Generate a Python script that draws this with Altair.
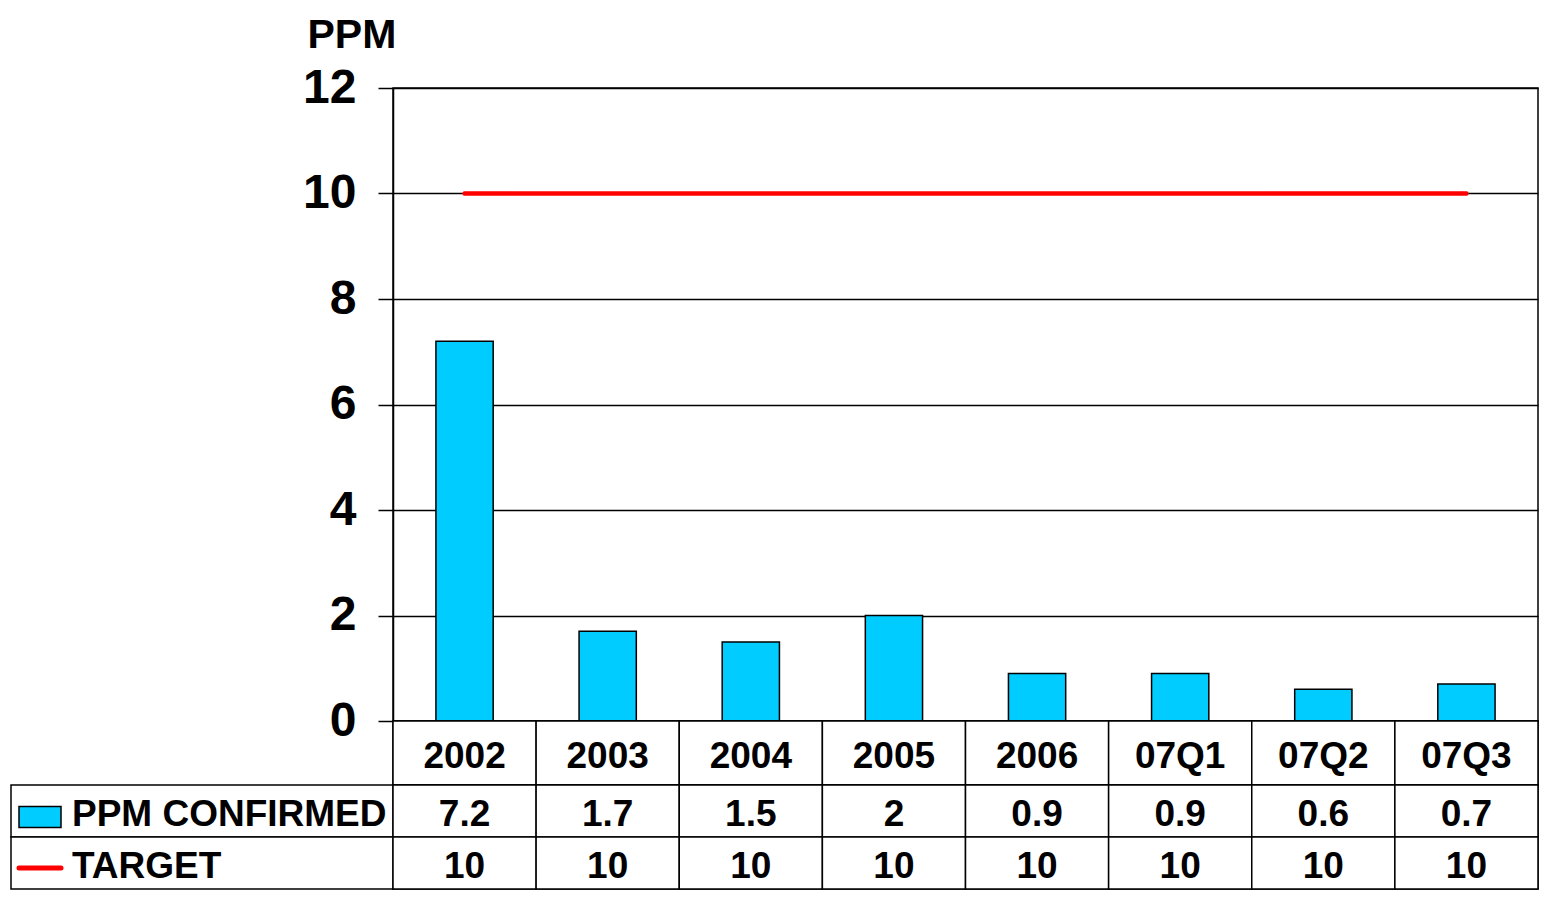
import altair as alt
import pandas as pd

categories = ["2002", "2003", "2004", "2005", "2006", "07Q1", "07Q2", "07Q3"]
ppm_confirmed = [7.2, 1.7, 1.5, 2, 0.9, 0.9, 0.6, 0.7]
target = [10, 10, 10, 10, 10, 10, 10, 10]
series_names = ["PPM CONFIRMED", "TARGET"]
y_tick_values = [0, 2, 4, 6, 8, 10, 12]

FONT = "Liberation Sans"
CYAN = "#00CCFF"
RED = "#FF0000"
LINE_W = 1.5
PLOT_W = 1145
LEFT_COL = 382
NO_PAD = {"left": 0, "top": 0, "right": 0, "bottom": 0}

df = pd.DataFrame({"cat": categories, "ppm": ppm_confirmed, "target": target})
table_df = pd.DataFrame({
    "cat": categories * 2,
    "series": [series_names[0]] * len(categories) + [series_names[1]] * len(categories),
    "value": ppm_confirmed + target,
})
series_df = pd.DataFrame({"series": series_names})
spacer_df = pd.DataFrame({"k": [0]})

# ---------- main plot ----------
x_bars = alt.X("cat:N", sort=categories,
               scale=alt.Scale(domain=categories, paddingInner=0.6, paddingOuter=0.3),
               axis=None)
y_scale = alt.Scale(domain=[0, 12], nice=False)
y_axis = alt.Axis(values=y_tick_values, grid=True, gridColor="black", gridWidth=LINE_W, gridOpacity=1,
                  ticks=True, tickSize=15, tickColor="black", tickWidth=LINE_W,
                  domain=True, domainColor="black", domainWidth=LINE_W,
                  labelFont=FONT, labelFontSize=48, labelFontWeight="bold", labelColor="black",
                  labelPadding=22,
                  title="PPM", titleFont=FONT, titleFontSize=41, titleFontWeight="bold",
                  titleColor="black", titleAngle=0, titleAlign="left", titleBaseline="alphabetic",
                  titleX=-86, titleY=-41)

bars = alt.Chart(df).mark_bar(color=CYAN, stroke="black", strokeWidth=LINE_W).encode(
    x=x_bars, y=alt.Y("ppm:Q", scale=y_scale, axis=y_axis))
line = alt.Chart(df).mark_line(color=RED, strokeWidth=4.5, strokeCap="round").encode(
    x=x_bars, y=alt.Y("target:Q", scale=y_scale, axis=y_axis))
# invisible spacer giving head-room above the "PPM" title
spacer = alt.Chart(spacer_df).mark_rule(strokeOpacity=0, strokeWidth=0.1).encode(
    x=alt.value(0), x2=alt.value(1), y=alt.value(-79))
top = alt.layer(bars, line, spacer).properties(width=PLOT_W, height=633)

# ---------- category row ----------
x_table = alt.X("cat:N", sort=categories,
                scale=alt.Scale(domain=categories, paddingInner=0, paddingOuter=0),
                axis=None)
txt = dict(font=FONT, fontSize=37, fontWeight="bold", color="black", baseline="middle")
cat_cells = alt.Chart(df).mark_rect(fill="white", stroke="black", strokeWidth=LINE_W).encode(x=x_table)
cat_text = alt.Chart(df).mark_text(dy=3.5, **txt).encode(x=x_table, text="cat:N")
catrow = alt.layer(cat_cells, cat_text).properties(width=PLOT_W, height=64)

# ---------- data table ----------
y_rows = alt.Y("series:N", sort=series_names,
               scale=alt.Scale(domain=series_names, paddingInner=0, paddingOuter=0),
               axis=None)
val_cells = alt.Chart(table_df).mark_rect(fill="white", stroke="black", strokeWidth=LINE_W).encode(
    x=x_table, y=y_rows)
val_text = alt.Chart(table_df).mark_text(dy=4, **txt).encode(
    x=x_table, y=y_rows, text=alt.Text("value:Q", format="~g"))
label_cells = alt.Chart(series_df).mark_rect(fill="white", stroke="black", strokeWidth=LINE_W).encode(
    x=alt.value(-LEFT_COL), x2=alt.value(0), y=y_rows)
label_text = alt.Chart(series_df).mark_text(align="left", dy=4, **txt).encode(
    x=alt.value(-321), y=y_rows, text="series:N")
swatch_bar = alt.Chart(series_df).transform_filter(alt.datum.series == series_names[0]).mark_point(
    shape="M-1,-0.5L1,-0.5L1,0.5L-1,0.5Z", size=1764, filled=True, fill=CYAN,
    stroke="black", strokeWidth=LINE_W, opacity=1, yOffset=6).encode(x=alt.value(-353), y=y_rows)
swatch_line = alt.Chart(series_df).transform_filter(alt.datum.series == series_names[1]).mark_point(
    shape="M-1,0L1,0", size=1764, filled=False, stroke=RED, strokeWidth=5, strokeCap="round",
    opacity=1, yOffset=5).encode(x=alt.value(-353), y=y_rows)
table = alt.layer(label_cells, val_cells, val_text, label_text, swatch_bar, swatch_line).properties(
    width=PLOT_W, height=104)

chart = alt.vconcat(top, catrow, table, spacing=0, bounds="flush").resolve_scale(
    x="independent", y="independent").properties(
    padding=NO_PAD, background="white").configure(padding=NO_PAD).configure_view(
    stroke="black", strokeWidth=LINE_W)

chart.save("out.html", embed_options={"renderer": "svg", "actions": False})
